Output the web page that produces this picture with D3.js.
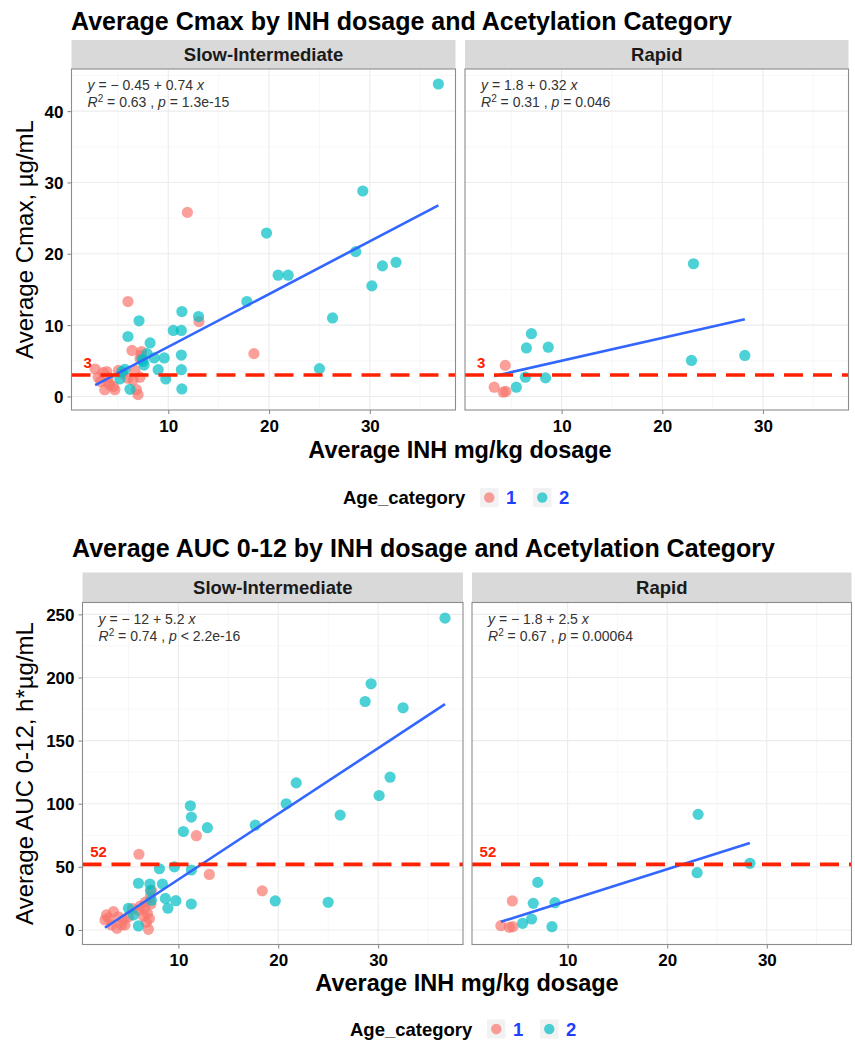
<!DOCTYPE html>
<html><head><meta charset="utf-8">
<script src="https://cdn.jsdelivr.net/npm/d3@7"></script>
<style>
html,body{margin:0;padding:0;background:#fff;}
svg{display:block;font-family:"Liberation Sans",Arial,sans-serif;}
</style></head>
<body><svg id="chart" width="855" height="1050"></svg>
<script>
// ---------- data ----------
const facets = ["Slow-Intermediate", "Rapid"];
const ageCategories = ["1", "2"];
const xTicks = [10, 20, 30];
const xMinorTicks = [5, 15, 25, 35];
const cmaxTicks = [0, 10, 20, 30, 40];
const cmaxMinorTicks = [5, 15, 25, 35, 45];
const aucTicks = [0, 50, 100, 150, 200, 250];
const aucMinorTicks = [25, 75, 125, 175, 225];

// [INH mg/kg dosage, Cmax µg/mL]
const cmaxSlowAge1 = [[11.9,25.8],[18.5,6.0],[6.0,13.3],[13.05,10.5],[6.4,6.45],[7.35,6.3],[7.3,5.8],[7.2,5.3],[2.75,3.85],[3.55,3.35],[3.05,2.7],[5.05,3.65],[6.7,3.65],[7.2,2.7],[4.05,1.9],[4.55,1.4],[3.7,0.95],[4.7,0.95],[6.85,0.95],[7.0,0.25],[6.0,2.55],[6.5,2.3],[4.05,2.7],[3.3,2.1],[5.5,3.2],[4.2,1.6],[3.9,3.5]];
const cmaxSlowAge2 = [[36.8,43.8],[29.3,28.8],[19.75,22.9],[28.6,20.3],[31.25,18.3],[32.6,18.8],[20.9,17.0],[21.9,17.0],[30.2,15.5],[17.8,13.3],[26.3,11.0],[25.0,3.9],[11.35,11.9],[13.0,11.2],[7.1,10.6],[10.5,9.25],[11.3,9.25],[6.0,8.4],[8.2,7.5],[8.6,5.4],[9.6,5.4],[11.3,5.8],[7.5,4.9],[9.0,3.75],[11.3,3.75],[5.4,3.5],[5.7,3.8],[9.75,2.45],[5.2,2.45],[11.35,1.05],[6.2,1.0],[7.9,6.0],[7.4,5.2],[7.6,4.4]];
const cmaxRapidAge1 = [[3.3,1.3],[4.2,0.6],[4.4,4.35],[4.45,0.7]];
const cmaxRapidAge2 = [[23.1,18.6],[7.0,8.8],[6.5,6.8],[8.67,6.9],[22.9,5.05],[28.2,5.75],[6.4,2.7],[8.4,2.6],[5.5,1.3]];

// [INH mg/kg dosage, AUC 0-12 h*µg/mL]
const aucSlowAge1 = [[6.05,60],[11.8,74.7],[13.1,44],[18.4,31],[7.3,31.6],[7.2,26.3],[6.7,22],[6.6,17],[6.9,13],[7.1,9],[6.8,6],[6.5,11],[7.0,0.5],[2.8,11.9],[3.5,14.5],[2.65,7.9],[4.0,10.5],[4.3,4],[3.3,4],[5.0,10.5],[6.0,15.8],[4.65,4],[3.85,1.3],[5.4,17],[4.5,8],[3.0,9.5],[6.2,19],[7.25,20.5]];
const aucSlowAge2 = [[36.7,247],[29.3,195],[28.7,181],[32.5,176],[21.8,116.5],[31.2,121],[30.1,106.5],[20.8,100],[26.2,91],[11.2,98.4],[11.3,89.4],[10.5,78],[12.9,81],[17.7,83],[9.6,50],[8.1,48.5],[11.3,47.5],[6.0,37],[7.15,36.4],[8.4,36.4],[7.3,23.5],[8.7,25],[9.75,23.2],[8.95,17.2],[11.3,20.6],[19.7,23],[25.0,21.9],[5.0,17.2],[5.5,11.9],[6.0,3.2],[7.2,31]];
const aucRapidAge1 = [[3.3,3.4],[4.15,2.1],[4.45,23],[4.5,2.6]];
const aucRapidAge2 = [[23.1,91.6],[28.3,52.8],[23.0,45.4],[7.0,37.7],[6.55,21.1],[8.73,21.6],[6.38,8.7],[5.48,5.3],[8.43,2.6]];

// regression fits per facet
const cmaxIntercepts = [-0.45, 1.8];
const cmaxSlopes = [0.74, 0.32];
const cmaxEqText = [["− 0.45", "0.74"], ["1.8", "0.32"]];
const cmaxR2 = ["0.63", "0.31"];
const cmaxP = [["=", "1.3e-15"], ["=", "0.046"]];
const aucIntercepts = [-12, -1.8];
const aucSlopes = [5.2, 2.5];
const aucEqText = [["− 12", "5.2"], ["− 1.8", "2.5"]];
const aucR2 = ["0.74", "0.67"];
const aucP = [["<", "2.2e-16"], ["=", "0.00064"]];

const cmaxThreshold = 3;
const aucThreshold = 52;

// ---------- styles ----------
const ageColors = ["#F8766D", "#00BFC4"];
const FONT = "'Liberation Sans', Arial, sans-serif";
const svg = d3.select("#chart");

function drawChart(cfg) {
  const g = svg.append("g");
  // title
  g.append("text").attr("x", cfg.titleX).attr("y", cfg.titleY)
    .attr("font-size", 25).attr("font-weight", "bold").attr("fill", "#000")
    .text(cfg.title);

  const y = d3.scaleLinear().domain(cfg.yDomain).range([cfg.panelBottom, cfg.panelTop]);

  cfg.panels.forEach((p, i) => {
    const x = d3.scaleLinear().domain([0.4, 38.5]).range([p.x0, p.x1]);
    const pg = g.append("g");
    // strip
    pg.append("rect").attr("x", p.x0).attr("y", cfg.stripTop)
      .attr("width", p.x1 - p.x0).attr("height", cfg.panelTop - cfg.stripTop)
      .attr("fill", "#d9d9d9");
    pg.append("text").attr("x", (p.x0 + p.x1) / 2).attr("y", (cfg.stripTop + cfg.panelTop) / 2 + 6.5)
      .attr("text-anchor", "middle").attr("font-size", 18.5).attr("font-weight", "bold")
      .attr("fill", "#1a1a1a").text(facets[i]);
    // panel bg
    pg.append("rect").attr("x", p.x0).attr("y", cfg.panelTop)
      .attr("width", p.x1 - p.x0).attr("height", cfg.panelBottom - cfg.panelTop).attr("fill", "#fff");
    // grid
    const grid = pg.append("g");
    grid.selectAll(".xm").data(xMinorTicks).join("line")
      .attr("x1", d => x(d)).attr("x2", d => x(d)).attr("y1", cfg.panelTop).attr("y2", cfg.panelBottom)
      .attr("stroke", "#f2f2f2").attr("stroke-width", 0.6);
    grid.selectAll(".ym").data(cfg.yMinor).join("line")
      .attr("y1", d => y(d)).attr("y2", d => y(d)).attr("x1", p.x0).attr("x2", p.x1)
      .attr("stroke", "#f2f2f2").attr("stroke-width", 0.6);
    grid.selectAll(".xM").data(xTicks).join("line")
      .attr("x1", d => x(d)).attr("x2", d => x(d)).attr("y1", cfg.panelTop).attr("y2", cfg.panelBottom)
      .attr("stroke", "#ececec").attr("stroke-width", 1.1);
    grid.selectAll(".yM").data(cfg.yTicks).join("line")
      .attr("y1", d => y(d)).attr("y2", d => y(d)).attr("x1", p.x0).attr("x2", p.x1)
      .attr("stroke", "#ececec").attr("stroke-width", 1.1);

    // points
    const groups = cfg.data[i];
    groups.forEach((pts, a) => {
      pg.append("g").selectAll("circle").data(pts).join("circle")
        .attr("cx", d => x(d[0])).attr("cy", d => y(d[1])).attr("r", 5.6)
        .attr("fill", ageColors[a]).attr("fill-opacity", 0.7);
    });
    // regression line over data range
    const allX = groups.flat().map(d => d[0]);
    const [xmin, xmax] = d3.extent(allX);
    const b0 = cfg.intercepts[i], b1 = cfg.slopes[i];
    pg.append("line").attr("x1", x(xmin)).attr("y1", y(b0 + b1 * xmin))
      .attr("x2", x(xmax)).attr("y2", y(b0 + b1 * xmax))
      .attr("stroke", "#3366FF").attr("stroke-width", 2.6).attr("stroke-linecap", "butt");
    // threshold line
    pg.append("line").attr("x1", p.x0).attr("x2", p.x1)
      .attr("y1", y(cfg.threshold)).attr("y2", y(cfg.threshold))
      .attr("stroke", "#ff2200").attr("stroke-width", 3.6).attr("stroke-dasharray", "19,10");
    pg.append("text").attr("x", x(2)).attr("y", y(cfg.threshold) - 7)
      .attr("text-anchor", "middle").attr("font-size", 15).attr("font-weight", "bold")
      .attr("fill", "#ff2200").text(String(cfg.threshold));
    // equation
    const eq = pg.append("text").attr("x", p.x0 + 16).attr("y", cfg.panelTop + 21)
      .attr("font-size", 14).attr("fill", "#333");
    eq.append("tspan").attr("font-style", "italic").text("y");
    eq.append("tspan").text(" = " + cfg.eqText[i][0] + " + " + cfg.eqText[i][1] + " ");
    eq.append("tspan").attr("font-style", "italic").text("x");
    const eq2 = pg.append("text").attr("x", p.x0 + 16).attr("y", cfg.panelTop + 38)
      .attr("font-size", 14).attr("fill", "#333");
    eq2.append("tspan").attr("font-style", "italic").text("R");
    eq2.append("tspan").attr("font-size", 10).attr("dy", -5).text("2");
    eq2.append("tspan").attr("dy", 5).text(" = " + cfg.r2[i] + " , ");
    eq2.append("tspan").attr("font-style", "italic").text("p");
    eq2.append("tspan").text(" " + cfg.p[i][0] + " " + cfg.p[i][1]);

    // border
    pg.append("rect").attr("x", p.x0).attr("y", cfg.panelTop)
      .attr("width", p.x1 - p.x0).attr("height", cfg.panelBottom - cfg.panelTop)
      .attr("fill", "none").attr("stroke", "#8c8c8c").attr("stroke-width", 1.1);

    // x axis
    const xa = pg.append("g").attr("transform", `translate(0,${cfg.panelBottom})`)
      .call(d3.axisBottom(x).tickValues(xTicks).tickSize(4).tickPadding(4).tickFormat(d3.format("d")));
    xa.select(".domain").remove();
    xa.selectAll(".tick line").attr("stroke", "#8c8c8c").attr("stroke-width", 1.1);
    xa.selectAll(".tick text").attr("font-size", 17).attr("font-weight", "bold")
      .attr("font-family", FONT).attr("fill", "#000").attr("dy", null).attr("y", 21.5);

    // y axis on first panel only
    if (i === 0) {
      const ya = pg.append("g").attr("transform", `translate(${p.x0},0)`)
        .call(d3.axisLeft(y).tickValues(cfg.yTicks).tickSize(4).tickPadding(4).tickFormat(d3.format("d")));
      ya.select(".domain").remove();
      ya.selectAll(".tick line").attr("stroke", "#8c8c8c").attr("stroke-width", 1.1);
      ya.selectAll(".tick text").attr("font-size", 17).attr("font-weight", "bold")
        .attr("font-family", FONT).attr("fill", "#000").attr("dy", "0.35em");
    }
  });

  // y axis title
  g.append("text").attr("transform", `translate(${cfg.yTitleX},${(cfg.panelTop + cfg.panelBottom) / 2}) rotate(-90)`)
    .attr("text-anchor", "middle").attr("font-size", 24).attr("fill", "#000")
    .text(cfg.yTitle);
  // x axis title
  g.append("text").attr("x", cfg.centerX).attr("y", cfg.xTitleY)
    .attr("text-anchor", "middle").attr("font-size", 23.5).attr("font-weight", "bold").attr("fill", "#000")
    .text("Average INH mg/kg dosage");

  // legend
  const lg = g.append("g").attr("transform", `translate(${cfg.centerX - 117},${cfg.legendY})`);
  lg.append("text").attr("x", 0).attr("y", 6.5).attr("font-size", 18.5).attr("font-weight", "bold")
    .attr("fill", "#000").text("Age_category");
  ageCategories.forEach((c, k) => {
    const kx = 137 + k * 53;
    lg.append("rect").attr("x", kx).attr("y", -9.5).attr("width", 18.5).attr("height", 19).attr("fill", "#f2f2f2");
    lg.append("circle").attr("cx", kx + 9.25).attr("cy", 0).attr("r", 5.2)
      .attr("fill", ageColors[k]).attr("fill-opacity", 0.7);
    lg.append("text").attr("x", kx + 26).attr("y", 6.5).attr("font-size", 18.5).attr("font-weight", "bold")
      .attr("fill", "#1f3fff").text(c);
  });
}

drawChart({
  title: "Average Cmax by INH dosage and Acetylation Category",
  titleX: 71, titleY: 30,
  stripTop: 40, panelTop: 69, panelBottom: 410,
  panels: [{x0: 71.5, x1: 455.5}, {x0: 465, x1: 848.5}],
  yDomain: [-1.9, 45.9], yTicks: cmaxTicks, yMinor: cmaxMinorTicks,
  yTitle: "Average Cmax, µg/mL", yTitleX: 33,
  data: [[cmaxSlowAge1, cmaxSlowAge2], [cmaxRapidAge1, cmaxRapidAge2]],
  intercepts: cmaxIntercepts, slopes: cmaxSlopes, eqText: cmaxEqText, r2: cmaxR2, p: cmaxP,
  threshold: cmaxThreshold,
  xTitleY: 457.5, centerX: 460, legendY: 497.5
});

drawChart({
  title: "Average AUC 0-12 by INH dosage and Acetylation Category",
  titleX: 72, titleY: 557,
  stripTop: 572.5, panelTop: 602.5, panelBottom: 944.5,
  panels: [{x0: 82.5, x1: 463}, {x0: 472, x1: 851.5}],
  yDomain: [-11.5, 259.4], yTicks: aucTicks, yMinor: aucMinorTicks,
  yTitle: "Average AUC 0-12, h*µg/mL", yTitleX: 33,
  data: [[aucSlowAge1, aucSlowAge2], [aucRapidAge1, aucRapidAge2]],
  intercepts: aucIntercepts, slopes: aucSlopes, eqText: aucEqText, r2: aucR2, p: aucP,
  threshold: aucThreshold,
  xTitleY: 991, centerX: 467, legendY: 1029
});
</script></body></html>
